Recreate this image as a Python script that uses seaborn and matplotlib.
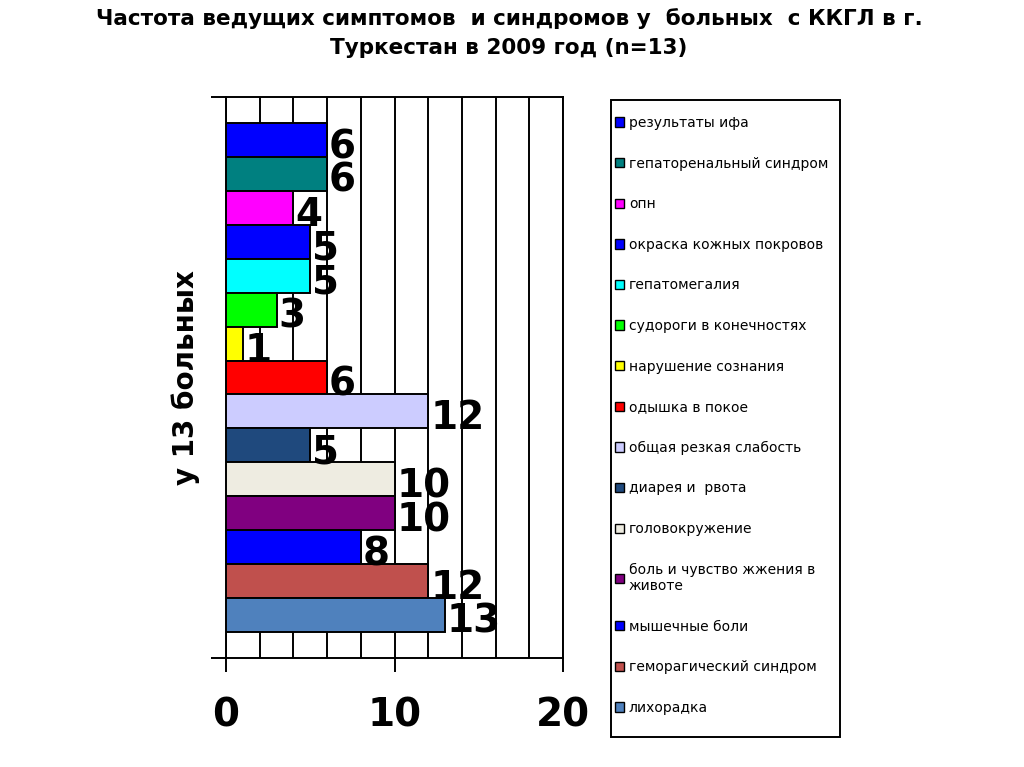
import matplotlib
matplotlib.use("Agg")
import matplotlib.pyplot as plt
from matplotlib.patches import Patch, Rectangle
from matplotlib.ticker import MultipleLocator
import seaborn as sns

# данные: сверху вниз, как на графике
symptoms = [
    "результаты ифа",
    "гепаторенальный синдром",
    "опн",
    "окраска кожных покровов",
    "гепатомегалия",
    "судороги в конечностях",
    "нарушение сознания",
    "одышка в покое",
    "общая резкая слабость",
    "диарея и  рвота",
    "головокружение",
    "боль и чувство жжения в\nживоте",
    "мышечные боли",
    "геморагический синдром",
    "лихорадка",
]
counts = [6, 6, 4, 5, 5, 3, 1, 6, 12, 5, 10, 10, 8, 12, 13]
colors = [
    "#0000FF", "#008080", "#FF00FF", "#0000FF", "#00FFFF",
    "#00FF00", "#FFFF00", "#FF0000", "#CCCCFF", "#1F497D",
    "#EEECE1", "#800080", "#0000FF", "#C0504D", "#4F81BD",
]
x_ticks = [0, 10, 20]

sns.set_style("white")
plt.rcParams["font.family"] = ["DejaVu Sans"]
plt.rcParams["text.color"] = "black"
plt.rcParams["axes.labelcolor"] = "black"
plt.rcParams["xtick.color"] = "black"
plt.rcParams["ytick.color"] = "black"

fig = plt.figure(figsize=(10.24, 7.67), dpi=100)
ax = fig.add_axes([226 / 1024, 1 - 658 / 767, 337 / 1024, 561 / 767])

sns.barplot(x=counts, y=symptoms, hue=symptoms, palette=dict(zip(symptoms, colors)),
            dodge=False, width=1.0, saturation=1, edgecolor="black", linewidth=1.4,
            legend=False, orient="h", ax=ax, zorder=3)

pad = 0.77
ax.set_ylim(len(symptoms) - 0.5 + pad, -0.5 - pad)
ax.set_xlim(0, 20)

# сетка по 2, подписи 0/10/20
ax.set_xticks(x_ticks)
ax.xaxis.set_minor_locator(MultipleLocator(2))
ax.grid(True, axis="x", which="both", color="black", linewidth=1.4)
ax.set_axisbelow(True)
ax.tick_params(axis="x", which="major", bottom=True, direction="out", length=10, width=1.4,
               pad=18, labelsize=28)
ax.tick_params(axis="x", which="minor", bottom=False, length=0)
for lbl in ax.get_xticklabels():
    lbl.set_fontweight("bold")

ylo, yhi = ax.get_ylim()
ax.set_yticks([ylo, yhi])
ax.set_yticklabels(["", ""])
ax.tick_params(axis="y", left=True, direction="out", length=11, width=1.4)
ax.set_ylabel("у 13 больных", fontsize=20, fontweight="bold", labelpad=4)

for sp in ax.spines.values():
    sp.set_color("black")
    sp.set_linewidth(1.4)

# подписи значений
for i, v in enumerate(counts):
    ax.annotate(str(v), xy=(v, i), xytext=(2, -7), textcoords="offset pixels",
                ha="left", va="center", fontsize=28, fontweight="bold", zorder=4)

fig.suptitle("Частота ведущих симптомов  и синдромов у  больных  с ККГЛ в г.\nТуркестан в 2009 год (n=13)",
             x=0.497, y=0.99, fontsize=15.5, fontweight="bold", linespacing=1.6)

# рамка легенды
fig.add_artist(Rectangle((611 / 1024, 1 - 737 / 767), 229 / 1024, 637 / 767,
                         transform=fig.transFigure, facecolor="none",
                         edgecolor="black", linewidth=1.4))
handles = [Patch(facecolor=c, edgecolor="black", linewidth=1) for c in colors]
leg = fig.legend(handles, symptoms, loc="upper left",
                 bbox_to_anchor=(615 / 1024, 1 - 116 / 767), borderaxespad=0,
                 frameon=False, fontsize=10,
                 handlelength=0.65, handleheight=0.65, handletextpad=0.35,
                 labelspacing=1.915, borderpad=0)

fig.savefig("out.png", dpi=100, facecolor="white")
